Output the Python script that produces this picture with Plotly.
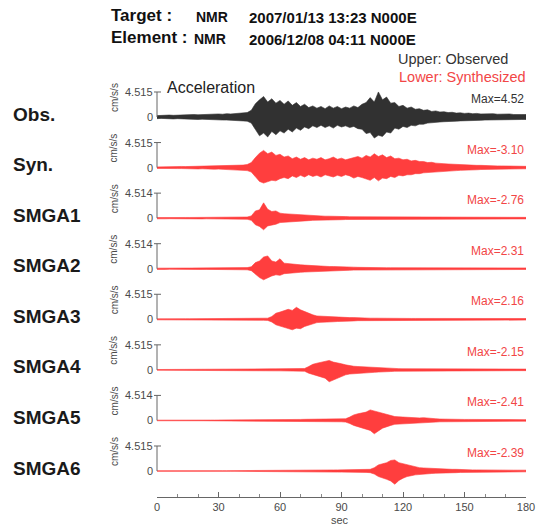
import plotly.graph_objects as go

# ---------------- data (cm/s/s), sampled every 2 s from 0 to 180 s ----------------
TIME = list(range(0, 181, 2))

ROW_NAMES = ["Obs.", "Syn.", "SMGA1", "SMGA2", "SMGA3", "SMGA4", "SMGA5", "SMGA6"]
SCALE_LABELS = ["4.515", "4.515", "4.514", "4.514", "4.515", "4.515", "4.514", "4.515"]
MAX_LABELS = ["Max=4.52", "Max=-3.10", "Max=-2.76", "Max=2.31", "Max=2.16",
              "Max=-2.15", "Max=-2.41", "Max=-2.39"]
X_TICKS = [0, 30, 60, 90, 120, 150, 180]

OBS_UP = [0.25, 0.3, 0.3, 0.35, 0.3, 0.35, 0.4, 0.35, 0.4, 0.45,
          0.4, 0.45, 0.5, 0.45, 0.5, 0.55, 0.5, 0.6, 0.55, 0.6,
          0.65, 0.7, 0.8, 1.2, 2.4, 3.1, 3.7, 2.7, 3.3, 2.5,
          3.0, 2.3, 2.9, 2.1, 2.6, 1.9, 2.3, 1.7, 2.0, 1.6,
          1.9, 1.5, 2.0, 1.6, 1.9, 1.5, 1.8, 1.6, 2.0, 1.7,
          2.3, 2.6, 3.5, 2.7, 4.52, 3.1, 3.6, 2.5, 2.6, 1.9,
          2.1, 1.6, 1.8, 1.4, 1.5, 1.2, 1.3, 1.0, 1.1, 0.9,
          0.95, 0.8, 0.85, 0.7, 0.75, 0.65, 0.7, 0.6, 0.65, 0.55,
          0.6, 0.55, 0.6, 0.5, 0.55, 0.5, 0.55, 0.45, 0.5, 0.45,
          0.45]
OBS_LO = [-0.3, -0.25, -0.35, -0.3, -0.35, -0.3, -0.35, -0.4, -0.4, -0.4,
          -0.45, -0.4, -0.45, -0.5, -0.5, -0.5, -0.55, -0.55, -0.6, -0.55,
          -0.65, -0.7, -0.75, -1.1, -2.2, -3.4, -2.9, -3.6, -2.6, -3.2,
          -2.5, -2.9, -2.2, -2.7, -2.0, -2.4, -1.8, -2.1, -1.6, -1.9,
          -1.5, -1.9, -1.6, -2.0, -1.5, -1.8, -1.6, -1.9, -1.7, -2.1,
          -2.2, -3.0, -2.8, -3.8, -3.3, -3.5, -2.7, -2.9, -2.0, -2.2,
          -1.7, -1.9, -1.5, -1.6, -1.3, -1.3, -1.1, -1.1, -0.95, -0.9,
          -0.85, -0.85, -0.75, -0.75, -0.7, -0.7, -0.65, -0.6, -0.6, -0.6,
          -0.55, -0.55, -0.55, -0.5, -0.5, -0.5, -0.5, -0.45, -0.45, -0.45,
          -0.45]

SYN_UP = [0.12, 0.15, 0.12, 0.15, 0.18, 0.15, 0.2, 0.18, 0.2, 0.22,
          0.2, 0.25, 0.22, 0.28, 0.25, 0.3, 0.28, 0.32, 0.3, 0.35,
          0.4, 0.45, 0.55, 0.9, 1.8, 2.6, 3.1, 2.5, 2.8, 2.2,
          2.4, 1.9, 2.1, 1.6, 1.9, 1.5, 1.8, 1.4, 1.7, 1.5,
          1.8, 1.4, 1.6, 1.9, 1.5, 1.7, 1.4, 1.6, 1.8, 2.0,
          1.7, 2.2, 1.9, 2.5, 2.0, 2.3, 1.8, 2.1, 1.6, 1.7,
          1.4, 1.5, 1.2, 1.3, 1.1, 1.1, 0.9, 0.95, 0.8, 0.8,
          0.7, 0.65, 0.6, 0.55, 0.5, 0.5, 0.45, 0.45, 0.4, 0.4,
          0.35, 0.35, 0.32, 0.3, 0.3, 0.28, 0.28, 0.25, 0.25, 0.25,
          0.22]
SYN_LO = [-0.15, -0.12, -0.15, -0.18, -0.15, -0.18, -0.18, -0.2, -0.22, -0.2,
          -0.25, -0.22, -0.28, -0.25, -0.3, -0.28, -0.32, -0.3, -0.35, -0.35,
          -0.4, -0.5, -0.55, -0.8, -1.7, -2.5, -2.8, -2.6, -2.3, -2.4,
          -2.0, -1.8, -2.0, -1.5, -1.8, -1.4, -1.7, -1.3, -1.6, -1.4,
          -1.7, -1.3, -1.5, -1.7, -1.4, -1.6, -1.3, -1.5, -1.9, -1.6,
          -1.8, -2.0, -2.3, -1.8, -2.4, -1.9, -2.0, -1.6, -1.8, -1.4,
          -1.5, -1.3, -1.3, -1.1, -1.1, -0.95, -0.9, -0.85, -0.8, -0.7,
          -0.7, -0.6, -0.6, -0.55, -0.5, -0.45, -0.45, -0.4, -0.4, -0.35,
          -0.35, -0.32, -0.3, -0.3, -0.28, -0.28, -0.25, -0.25, -0.25, -0.22,
          -0.22]

SMGA1_UP = [0.1, 0.12, 0.1, 0.12, 0.1, 0.12, 0.1, 0.12, 0.12, 0.12,
            0.12, 0.12, 0.14, 0.12, 0.14, 0.14, 0.15, 0.15, 0.15, 0.16,
            0.16, 0.18, 0.2, 0.4, 1.3, 1.5, 2.76, 1.6, 1.2, 1.3,
            0.9, 0.8, 0.75, 0.65, 0.6, 0.55, 0.5, 0.45, 0.45, 0.4,
            0.4, 0.35, 0.35, 0.3, 0.3, 0.28, 0.28, 0.25, 0.25, 0.25,
            0.22, 0.22, 0.22, 0.2, 0.2, 0.2, 0.18, 0.18, 0.18, 0.18,
            0.16, 0.16, 0.16, 0.16, 0.16, 0.16, 0.16, 0.16, 0.16, 0.16,
            0.15, 0.15, 0.15, 0.15, 0.15, 0.15, 0.15, 0.15, 0.15, 0.15,
            0.14, 0.14, 0.14, 0.14, 0.14, 0.14, 0.14, 0.14, 0.14, 0.14,
            0.14]
SMGA1_LO = [-0.12, -0.1, -0.12, -0.1, -0.12, -0.1, -0.12, -0.1, -0.12, -0.12,
            -0.12, -0.14, -0.12, -0.14, -0.14, -0.14, -0.15, -0.15, -0.16, -0.16,
            -0.16, -0.18, -0.2, -0.4, -1.2, -1.5, -2.1, -1.4, -1.2, -1.1,
            -0.8, -0.75, -0.7, -0.6, -0.55, -0.5, -0.5, -0.45, -0.4, -0.4,
            -0.35, -0.35, -0.3, -0.3, -0.28, -0.28, -0.25, -0.25, -0.25, -0.22,
            -0.22, -0.22, -0.2, -0.2, -0.2, -0.18, -0.18, -0.18, -0.18, -0.16,
            -0.16, -0.16, -0.16, -0.16, -0.16, -0.16, -0.16, -0.16, -0.16, -0.16,
            -0.15, -0.15, -0.15, -0.15, -0.15, -0.15, -0.15, -0.15, -0.15, -0.15,
            -0.14, -0.14, -0.14, -0.14, -0.14, -0.14, -0.14, -0.14, -0.14, -0.14,
            -0.14]

SMGA2_UP = [0.1, 0.12, 0.1, 0.12, 0.1, 0.12, 0.1, 0.12, 0.12, 0.12,
            0.12, 0.12, 0.14, 0.12, 0.14, 0.14, 0.15, 0.15, 0.15, 0.16,
            0.16, 0.18, 0.2, 0.35, 1.1, 1.4, 2.1, 2.31, 1.4, 1.2,
            1.8, 1.0, 0.9, 0.8, 0.8, 0.7, 0.65, 0.6, 0.5, 0.55,
            0.45, 0.45, 0.4, 0.4, 0.35, 0.35, 0.3, 0.3, 0.28, 0.25,
            0.22, 0.22, 0.22, 0.2, 0.2, 0.2, 0.18, 0.18, 0.18, 0.18,
            0.16, 0.16, 0.16, 0.16, 0.16, 0.16, 0.16, 0.16, 0.16, 0.16,
            0.15, 0.15, 0.15, 0.15, 0.15, 0.15, 0.15, 0.15, 0.15, 0.15,
            0.14, 0.14, 0.14, 0.14, 0.14, 0.14, 0.14, 0.14, 0.14, 0.14,
            0.14]
SMGA2_LO = [-0.12, -0.1, -0.12, -0.1, -0.12, -0.1, -0.12, -0.1, -0.12, -0.12,
            -0.12, -0.14, -0.12, -0.14, -0.14, -0.14, -0.15, -0.15, -0.16, -0.16,
            -0.16, -0.18, -0.2, -0.35, -1.0, -1.6, -2.0, -1.7, -1.3, -1.1,
            -1.2, -0.9, -0.8, -0.75, -0.7, -0.65, -0.6, -0.55, -0.5, -0.5,
            -0.45, -0.4, -0.4, -0.35, -0.35, -0.3, -0.3, -0.28, -0.25, -0.22,
            -0.22, -0.22, -0.2, -0.2, -0.2, -0.18, -0.18, -0.18, -0.18, -0.16,
            -0.16, -0.16, -0.16, -0.16, -0.16, -0.16, -0.16, -0.16, -0.16, -0.16,
            -0.15, -0.15, -0.15, -0.15, -0.15, -0.15, -0.15, -0.15, -0.15, -0.15,
            -0.14, -0.14, -0.14, -0.14, -0.14, -0.14, -0.14, -0.14, -0.14, -0.14,
            -0.14]

SMGA3_UP = [0.08, 0.1, 0.08, 0.1, 0.08, 0.1, 0.08, 0.1, 0.1, 0.1,
            0.1, 0.1, 0.12, 0.1, 0.12, 0.12, 0.12, 0.12, 0.14, 0.14,
            0.14, 0.14, 0.15, 0.15, 0.16, 0.16, 0.18, 0.2, 0.5, 1.1,
            1.3, 1.5, 1.8, 1.6, 2.16, 1.7, 1.4, 1.0, 0.8, 0.6,
            0.55, 0.5, 0.5, 0.45, 0.4, 0.4, 0.35, 0.3, 0.3, 0.25,
            0.22, 0.2, 0.2, 0.2, 0.18, 0.18, 0.18, 0.16, 0.16, 0.16,
            0.15, 0.15, 0.15, 0.15, 0.15, 0.15, 0.15, 0.15, 0.15, 0.15,
            0.14, 0.14, 0.14, 0.14, 0.14, 0.14, 0.14, 0.14, 0.14, 0.14,
            0.14, 0.14, 0.14, 0.14, 0.14, 0.14, 0.14, 0.14, 0.14, 0.14,
            0.14]
SMGA3_LO = [-0.1, -0.08, -0.1, -0.08, -0.1, -0.08, -0.1, -0.08, -0.1, -0.1,
            -0.1, -0.12, -0.1, -0.12, -0.12, -0.12, -0.12, -0.14, -0.14, -0.14,
            -0.14, -0.15, -0.15, -0.16, -0.16, -0.18, -0.18, -0.2, -0.5, -1.0,
            -1.3, -1.4, -1.7, -1.9, -1.6, -1.7, -1.3, -1.0, -0.8, -0.6,
            -0.55, -0.5, -0.45, -0.45, -0.4, -0.4, -0.35, -0.3, -0.3, -0.25,
            -0.22, -0.2, -0.2, -0.2, -0.18, -0.18, -0.18, -0.16, -0.16, -0.16,
            -0.15, -0.15, -0.15, -0.15, -0.15, -0.15, -0.15, -0.15, -0.15, -0.15,
            -0.14, -0.14, -0.14, -0.14, -0.14, -0.14, -0.14, -0.14, -0.14, -0.14,
            -0.14, -0.14, -0.14, -0.14, -0.14, -0.14, -0.14, -0.14, -0.14, -0.14,
            -0.14]

SMGA4_UP = [0.06, 0.07, 0.06, 0.07, 0.06, 0.07, 0.06, 0.07, 0.07, 0.07,
            0.07, 0.07, 0.08, 0.08, 0.08, 0.08, 0.08, 0.08, 0.12, 0.14,
            0.14, 0.15, 0.15, 0.16, 0.16, 0.16, 0.17, 0.17, 0.18, 0.18,
            0.18, 0.19, 0.19, 0.2, 0.2, 0.22, 0.25, 0.6, 1.0, 1.2,
            1.4, 1.6, 1.7, 1.4, 1.3, 1.1, 0.9, 0.75, 0.65, 0.6,
            0.55, 0.5, 0.5, 0.45, 0.4, 0.35, 0.3, 0.3, 0.25, 0.22,
            0.2, 0.2, 0.2, 0.18, 0.18, 0.18, 0.17, 0.17, 0.16, 0.16,
            0.16, 0.16, 0.15, 0.15, 0.15, 0.15, 0.15, 0.15, 0.14, 0.14,
            0.14, 0.14, 0.14, 0.14, 0.14, 0.14, 0.14, 0.14, 0.14, 0.14,
            0.14]
SMGA4_LO = [-0.07, -0.06, -0.07, -0.06, -0.07, -0.06, -0.07, -0.06, -0.07, -0.07,
            -0.07, -0.08, -0.07, -0.08, -0.08, -0.08, -0.08, -0.1, -0.12, -0.14,
            -0.14, -0.14, -0.15, -0.16, -0.16, -0.16, -0.17, -0.17, -0.18, -0.18,
            -0.18, -0.19, -0.19, -0.2, -0.2, -0.22, -0.25, -0.6, -0.9, -1.1,
            -1.3, -1.5, -2.15, -1.8, -1.5, -1.2, -0.9, -0.75, -0.65, -0.6,
            -0.55, -0.5, -0.5, -0.45, -0.4, -0.35, -0.3, -0.3, -0.25, -0.22,
            -0.2, -0.2, -0.2, -0.18, -0.18, -0.18, -0.17, -0.17, -0.16, -0.16,
            -0.16, -0.16, -0.15, -0.15, -0.15, -0.15, -0.15, -0.15, -0.14, -0.14,
            -0.14, -0.14, -0.14, -0.14, -0.14, -0.14, -0.14, -0.14, -0.14, -0.14,
            -0.14]

SMGA5_UP = [0.05, 0.06, 0.05, 0.06, 0.05, 0.06, 0.05, 0.06, 0.06, 0.06,
            0.06, 0.06, 0.06, 0.06, 0.06, 0.06, 0.07, 0.07, 0.07, 0.07,
            0.07, 0.07, 0.08, 0.08, 0.08, 0.08, 0.14, 0.15, 0.15, 0.16,
            0.16, 0.17, 0.17, 0.18, 0.18, 0.18, 0.2, 0.2, 0.2, 0.2,
            0.22, 0.22, 0.22, 0.22, 0.24, 0.25, 0.3, 0.6, 1.0, 1.2,
            1.4, 1.5, 1.9, 1.7, 1.5, 1.2, 1.0, 0.8, 0.7, 0.65,
            0.6, 0.55, 0.6, 0.5, 0.45, 0.5, 0.4, 0.35, 0.3, 0.25,
            0.22, 0.22, 0.2, 0.2, 0.2, 0.18, 0.18, 0.18, 0.17, 0.17,
            0.16, 0.16, 0.16, 0.16, 0.15, 0.15, 0.15, 0.15, 0.15, 0.14,
            0.14]
SMGA5_LO = [-0.06, -0.05, -0.06, -0.05, -0.06, -0.05, -0.06, -0.05, -0.06, -0.06,
            -0.06, -0.06, -0.06, -0.06, -0.06, -0.07, -0.07, -0.07, -0.07, -0.07,
            -0.07, -0.08, -0.08, -0.08, -0.08, -0.08, -0.14, -0.15, -0.16, -0.16,
            -0.16, -0.17, -0.17, -0.18, -0.18, -0.18, -0.2, -0.2, -0.2, -0.2,
            -0.22, -0.22, -0.22, -0.22, -0.24, -0.25, -0.3, -0.55, -0.9, -1.2,
            -1.4, -1.6, -1.8, -2.41, -1.9, -1.4, -1.1, -0.9, -0.7, -0.65,
            -0.6, -0.55, -0.55, -0.5, -0.45, -0.45, -0.4, -0.35, -0.3, -0.25,
            -0.22, -0.22, -0.2, -0.2, -0.2, -0.18, -0.18, -0.18, -0.17, -0.17,
            -0.16, -0.16, -0.16, -0.16, -0.15, -0.15, -0.15, -0.15, -0.15, -0.14,
            -0.14]

SMGA6_UP = [0.05, 0.06, 0.05, 0.06, 0.05, 0.06, 0.05, 0.06, 0.06, 0.06,
            0.06, 0.06, 0.06, 0.06, 0.06, 0.06, 0.06, 0.06, 0.06, 0.06,
            0.06, 0.06, 0.06, 0.07, 0.07, 0.07, 0.07, 0.07, 0.07, 0.07,
            0.14, 0.15, 0.15, 0.16, 0.16, 0.16, 0.17, 0.17, 0.18, 0.18,
            0.18, 0.18, 0.19, 0.19, 0.2, 0.2, 0.2, 0.2, 0.22, 0.22,
            0.22, 0.25, 0.3, 0.6, 1.1, 1.3, 1.5, 1.9, 2.0, 1.5,
            1.3, 1.1, 0.9, 0.75, 0.6, 0.55, 0.5, 0.45, 0.45, 0.4,
            0.35, 0.35, 0.3, 0.3, 0.25, 0.22, 0.2, 0.2, 0.2, 0.18,
            0.18, 0.18, 0.17, 0.17, 0.16, 0.16, 0.16, 0.15, 0.15, 0.15,
            0.15]
SMGA6_LO = [-0.06, -0.05, -0.06, -0.05, -0.06, -0.05, -0.06, -0.05, -0.06, -0.06,
            -0.06, -0.06, -0.06, -0.06, -0.06, -0.06, -0.06, -0.06, -0.06, -0.06,
            -0.06, -0.06, -0.06, -0.07, -0.07, -0.07, -0.07, -0.07, -0.07, -0.07,
            -0.14, -0.15, -0.15, -0.16, -0.16, -0.16, -0.17, -0.17, -0.18, -0.18,
            -0.18, -0.18, -0.19, -0.19, -0.2, -0.2, -0.2, -0.2, -0.22, -0.22,
            -0.22, -0.25, -0.3, -0.55, -1.0, -1.3, -1.5, -1.8, -2.39, -1.7,
            -1.3, -1.0, -0.85, -0.7, -0.6, -0.55, -0.5, -0.45, -0.4, -0.4,
            -0.35, -0.35, -0.3, -0.3, -0.25, -0.22, -0.2, -0.2, -0.2, -0.18,
            -0.18, -0.18, -0.17, -0.17, -0.16, -0.16, -0.16, -0.15, -0.15, -0.15,
            -0.15]

UPPERS = [OBS_UP, SYN_UP, SMGA1_UP, SMGA2_UP, SMGA3_UP, SMGA4_UP, SMGA5_UP, SMGA6_UP]
LOWERS = [OBS_LO, SYN_LO, SMGA1_LO, SMGA2_LO, SMGA3_LO, SMGA4_LO, SMGA5_LO, SMGA6_LO]
for arr in UPPERS + LOWERS:
    assert len(arr) == len(TIME), len(arr)

SCALE_TOP = 4.515

# ---------------- layout geometry ----------------
W, H = 536, 525
ML, MR, MT, MB = 157, 10, 85, 28
PX_PER_UNIT = 5.539
ROW_STEP = 9.13             # vertical offset between rows, in cm/s/s
Y_TOP = 32 / PX_PER_UNIT
Y_BOT = -380 / PX_PER_UNIT
PW = W - ML - MR
PH = H - MT - MB

def px_x(px):
    return (px - ML) / PW

def px_y(py):
    return (H - MB - py) / PH

def du(px):
    return px / PX_PER_UNIT

BLACK = "#151515"
RED = "#ff2424"
RED_TXT = "#f24646"
GRAY = "#4a4a4a"

fig = go.Figure()
shapes = []
annotations = []

for k, name in enumerate(ROW_NAMES):
    off = -k * ROW_STEP
    color = BLACK if k == 0 else RED
    up = [off + v for v in UPPERS[k]]
    lo = [off + v for v in LOWERS[k]]
    fig.add_trace(go.Scatter(
        x=TIME + TIME[::-1], y=up + lo[::-1],
        mode="lines", fill="toself", fillcolor=color,
        line=dict(color=color, width=0.6), opacity=0.88,
        hoverinfo="skip", showlegend=False))

    # bracket axis for the row
    shapes.append(dict(type="line", xref="paper", yref="y",
                       x0=0, x1=0, y0=off, y1=off + SCALE_TOP,
                       line=dict(color="#666", width=1)))
    shapes.append(dict(type="line", xref="paper", yref="y",
                       x0=px_x(154), x1=px_x(161), y0=off + SCALE_TOP, y1=off + SCALE_TOP,
                       line=dict(color="#666", width=1)))

    annotations.append(dict(text=SCALE_LABELS[k], xref="paper", yref="y",
                            x=px_x(155), y=off + SCALE_TOP, xanchor="right", yanchor="middle",
                            showarrow=False, font=dict(size=11, color=GRAY)))
    annotations.append(dict(text="0", xref="paper", yref="y",
                            x=px_x(155), y=off, xanchor="right", yanchor="middle",
                            showarrow=False, font=dict(size=11, color=GRAY)))
    annotations.append(dict(text="cm/s/s", xref="paper", yref="y",
                            x=px_x(114), y=off + du(19), textangle=-90,
                            xanchor="center", yanchor="middle",
                            showarrow=False, font=dict(size=10, color=GRAY)))
    annotations.append(dict(text=f"<b>{name}</b>", xref="paper", yref="y",
                            x=px_x(11), y=off + du(3), xanchor="left", yanchor="middle",
                            showarrow=False,
                            font=dict(size=19, color="#1a1a1a", family="Liberation Sans")))
    annotations.append(dict(text=MAX_LABELS[k], xref="paper", yref="y",
                            x=1.0, y=off + du(18), xanchor="right", yanchor="middle",
                            showarrow=False,
                            font=dict(size=12, color="#333" if k == 0 else RED_TXT)))

# header texts
hdr = "Liberation Sans"
annotations += [
    dict(text="<b>Target :</b>", x=px_x(109), y=px_y(16), font=dict(size=17, color="#111", family=hdr)),
    dict(text="<b>NMR</b>", x=px_x(194), y=px_y(17), font=dict(size=14, color="#111", family=hdr)),
    dict(text="<b>2007/01/13 13:23 N000E</b>", x=px_x(247), y=px_y(17), font=dict(size=15, color="#111", family=hdr)),
    dict(text="<b>Element :</b>", x=px_x(109), y=px_y(38), font=dict(size=17, color="#111", family=hdr)),
    dict(text="<b>NMR</b>", x=px_x(192), y=px_y(39), font=dict(size=14, color="#111", family=hdr)),
    dict(text="<b>2006/12/08 04:11 N000E</b>", x=px_x(247), y=px_y(39), font=dict(size=15, color="#111", family=hdr)),
    dict(text="Acceleration", x=px_x(165), y=px_y(87), font=dict(size=16, color="#222", family=hdr)),
]
for a in annotations[-7:]:
    a.update(xref="paper", yref="paper", xanchor="left", yanchor="middle", showarrow=False)

annotations += [
    dict(text="Upper: Observed", xref="paper", yref="paper", x=px_x(510), y=px_y(59),
         xanchor="right", yanchor="middle", showarrow=False,
         font=dict(size=14.5, color="#333", family=hdr)),
    dict(text="Lower: Synthesized", xref="paper", yref="paper", x=px_x(528), y=px_y(77),
         xanchor="right", yanchor="middle", showarrow=False,
         font=dict(size=14.5, color=RED_TXT, family=hdr)),
    dict(text="sec", xref="paper", yref="paper", x=px_x(340), y=px_y(520),
         xanchor="center", yanchor="middle", showarrow=False,
         font=dict(size=11, color=GRAY, family=hdr)),
]

fig.update_layout(
    width=W, height=H, autosize=False,
    margin=dict(l=ML, r=MR, t=MT, b=MB, pad=0, autoexpand=False),
    paper_bgcolor="white", plot_bgcolor="white",
    font=dict(family="Liberation Sans", color=GRAY),
    shapes=shapes, annotations=annotations,
    xaxis=dict(range=[0, 180], tickvals=X_TICKS, ticktext=[str(v) for v in X_TICKS],
               ticks="inside", ticklen=5, tickcolor="#666", tickwidth=1,
               minor=dict(dtick=10, ticks="inside", ticklen=3, tickcolor="#888"),
               showline=True, linecolor="#666", linewidth=1,
               showgrid=False, zeroline=False, automargin=False,
               tickfont=dict(size=11, color=GRAY)),
    yaxis=dict(range=[Y_BOT, Y_TOP], visible=False, showgrid=False, zeroline=False,
               automargin=False),
)

fig.write_html("out.html", config={"responsive": False})
